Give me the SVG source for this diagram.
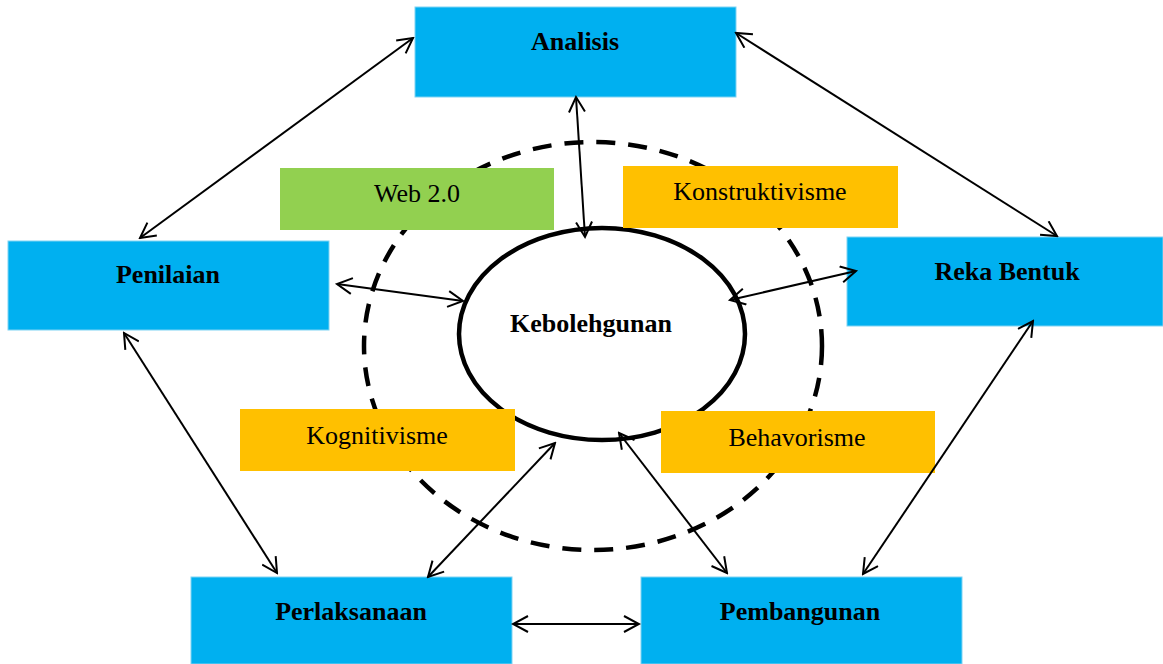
<svg xmlns="http://www.w3.org/2000/svg" width="1163" height="664" viewBox="0 0 1163 664">
<style>
.blue{fill:#00B0F0;stroke:#7fd3f3;stroke-width:1}
.green{fill:#92D050}
.orange{fill:#FFC000}
.b{font-family:"Liberation Serif","Times New Roman",serif;font-weight:bold;font-size:26px;fill:#000;text-anchor:middle}
.r{font-family:"Liberation Serif","Times New Roman",serif;font-size:26px;fill:#000;text-anchor:middle}
.c{stroke:#000;stroke-width:2;fill:none;marker-start:url(#ah);marker-end:url(#ah)}
</style>
<defs>
<marker id="ah" viewBox="0 0 18 18" refX="16" refY="9" markerWidth="18" markerHeight="18" markerUnits="userSpaceOnUse" orient="auto-start-reverse">
<path d="M1,1 L16,9 L1,17" fill="none" stroke="#000" stroke-width="2"/>
</marker>
</defs>
<rect width="1163" height="664" fill="#fff"/>
<g id="ring">
<ellipse cx="593" cy="346" rx="229" ry="204" fill="none" stroke="#000" stroke-width="4.5" stroke-dasharray="19 13"/>
</g>
<g id="kebolehgunan">
<ellipse cx="602" cy="334" rx="143" ry="106" fill="#fff" stroke="#000" stroke-width="4.5"/>
<text class="b" x="591" y="332">Kebolehgunan</text>
</g>
<g id="web20">
<rect class="green" x="280" y="168" width="274" height="62"/>
<text class="r" x="417" y="202">Web 2.0</text>
</g>
<g id="konstruktivisme">
<rect class="orange" x="623" y="166" width="275" height="62"/>
<text class="r" x="760" y="200">Konstruktivisme</text>
</g>
<g id="kognitivisme">
<rect class="orange" x="240" y="409" width="275" height="62"/>
<text class="r" x="377" y="444">Kognitivisme</text>
</g>
<g id="behavorisme">
<rect class="orange" x="661" y="411" width="274" height="62"/>
<text class="r" x="797" y="446">Behavorisme</text>
</g>
<g id="analisis">
<rect class="blue" x="415" y="7" width="321" height="90"/>
<text class="b" x="575" y="50">Analisis</text>
</g>
<g id="penilaian">
<rect class="blue" x="8" y="241" width="321" height="89"/>
<text class="b" x="168" y="283">Penilaian</text>
</g>
<g id="rekabentuk">
<rect class="blue" x="847" y="237" width="316" height="89"/>
<text class="b" x="1007" y="280">Reka Bentuk</text>
</g>
<g id="perlaksanaan">
<rect class="blue" x="191" y="577" width="321" height="87"/>
<text class="b" x="351" y="620">Perlaksanaan</text>
</g>
<g id="pembangunan">
<rect class="blue" x="641" y="577" width="321" height="87"/>
<text class="b" x="800" y="620">Pembangunan</text>
</g>
<g id="connectors">
<line class="c" x1="413" y1="38" x2="140" y2="238"/>
<line class="c" x1="736" y1="33" x2="1057" y2="236"/>
<line class="c" x1="576" y1="97" x2="585" y2="237"/>
<line class="c" x1="337" y1="284" x2="463" y2="301"/>
<line class="c" x1="730" y1="300" x2="856" y2="271"/>
<line class="c" x1="124" y1="333" x2="277" y2="573"/>
<line class="c" x1="1033" y1="321" x2="863" y2="574"/>
<line class="c" x1="428" y1="577" x2="555" y2="443"/>
<line class="c" x1="619" y1="433" x2="727" y2="573"/>
<line class="c" x1="513" y1="624" x2="639" y2="624"/>
</g>
</svg>
